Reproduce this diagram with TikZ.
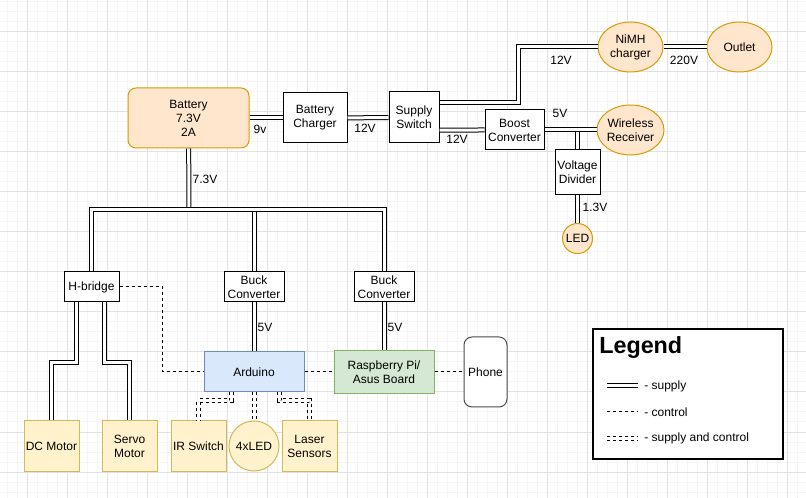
\documentclass[tikz,border=0pt]{standalone}
\usepackage{fontspec}
\setmainfont{Liberation Sans}
\usetikzlibrary{calc, positioning, shapes.geometric}
\definecolor{orangefill}{RGB}{255,230,204}
\definecolor{orangedraw}{RGB}{215,155,0}
\definecolor{yellowfill}{RGB}{255,242,204}
\definecolor{yellowdraw}{RGB}{214,182,86}
\definecolor{bluefill}{RGB}{218,232,252}
\definecolor{bluedraw}{RGB}{108,142,191}
\definecolor{greenfill}{RGB}{213,232,212}
\definecolor{greendraw}{RGB}{130,179,102}
\definecolor{gridminor}{RGB}{245,245,245}
\definecolor{gridmajor}{RGB}{226,226,226}

\begin{document}
\begin{tikzpicture}[x=0.75pt, y=-0.75pt,
  every node/.style={font=\fontsize{9}{10.5}\selectfont, inner sep=0pt, align=center}]
  \tikzstyle{box}=[draw, fill=white, line width=0.75pt]
  \tikzstyle{part}=[draw=yellowdraw, fill=yellowfill, line width=0.75pt,
    minimum width=41.25pt, minimum height=37.5pt]
  \tikzstyle{blob}=[ellipse, draw=orangedraw, fill=orangefill, line width=0.75pt,
    minimum width=48.75pt, minimum height=37.5pt]
  \tikzstyle{supply}=[draw=black, double=white, double distance=2.25pt, line width=0.75pt]
  \tikzstyle{control}=[line width=0.75pt, dash pattern=on 2.25pt off 2.25pt]
  \tikzstyle{both}=[supply, dash pattern=on 2.25pt off 2.25pt]

  % background and grid
  \fill[white] (0,0) rectangle (806,498);
  \useasboundingbox (0,0) rectangle (806,498);
  \foreach \x in {7,17,...,797} \draw[gridminor, line width=0.75pt] (\x,0) -- (\x,498);
  \foreach \y in {2,12,...,492} \draw[gridminor, line width=0.75pt] (0,\y) -- (806,\y);
  \foreach \x in {27,67,...,787} \draw[gridmajor, line width=0.75pt] (\x,0) -- (\x,498);
  \foreach \y in {32,72,...,472} \draw[gridmajor, line width=0.75pt] (0,\y) -- (806,\y);

  % top row
  \node[box, fill=orangefill, draw=orangedraw, rounded corners=6pt,
    minimum width=90.75pt, minimum height=45pt] (bat) at (188.5,118) {Battery\\7.3V\\2A};
  \node[box, minimum width=48pt, minimum height=37.5pt] (chg) at (315,118) {Battery\\Charger};
  \node[box, minimum width=37.5pt, minimum height=38.25pt] (sw) at (414,117.5) {Supply\\Switch};
  \node[blob] (nimh) at (630.5,47) {NiMH\\charger};
  \node[blob] (out) at (739.5,47) {Outlet};
  \node[box, minimum width=44.25pt, minimum height=30pt] (boost) at (514.5,130) {Boost\\Converter};
  \node[blob] (wr) at (630.5,130) {Wireless\\Receiver};
  \node[box, minimum width=33.75pt, minimum height=33.75pt] (div) at (577.5,172.5) {Voltage\\Divider};
  \node[blob, circle, minimum size=22.5pt] (led) at (577.5,238.5) {LED};

  % middle row
  \node[box, minimum width=41.25pt, minimum height=22.5pt] (hb) at (91.5,287) {H-bridge};
  \node[box, minimum width=45pt, minimum height=22.5pt] (bk1) at (254,287) {Buck\\Converter};
  \node[box, minimum width=45pt, minimum height=22.5pt] (bk2) at (384,287) {Buck\\Converter};
  \node[box, fill=bluefill, draw=bluedraw, minimum width=75pt, minimum height=30pt] (ard) at (254,372) {Arduino};
  \node[box, fill=greenfill, draw=greendraw, minimum width=75pt, minimum height=32.25pt] (rpi) at (384,372) {Raspberry Pi/\\Asus Board};
  \node[box, draw=black!70, rounded corners=6pt, minimum width=32.25pt, minimum height=52.5pt] (ph) at (485.5,372) {Phone};

  % bottom row
  \node[part] (dc) at (51.5,446) {DC Motor};
  \node[part] (servo) at (129.5,446) {Servo\\Motor};
  \node[part] (ir) at (198.5,446) {IR Switch};
  \node[part, circle, minimum size=37.5pt] (leds) at (254,446) {4xLED};
  \node[part] (las) at (309.5,446) {Laser\\Sensors};

  % supply lines
  \coordinate (bus) at (189,210);
  \coordinate (up) at (518,47);
  \draw[supply] (bat) -- (chg);
  \draw[supply] (chg) -- (sw);
  \draw[supply] ([yshift=11.6pt]sw.east) -- ([yshift=11.6pt]sw.east -| up) |- (nimh.west);
  \draw[supply] (nimh) -- (out);
  \draw[supply] ([yshift=-9.4pt]sw.east) -- (boost.west);
  \draw[supply] (div.north) -- (div.north |- boost.east);
  \draw[supply] (boost) -- (wr);
  \draw[supply] (div) -- (led);
  \draw[supply] (bat) -- (bus);
  \draw[supply] (bk1.north) -- (bk1.north |- bus);
  \draw[supply] (hb.north) |- (bus) -| (bk2.north);
  \draw[supply] (bk1) -- (ard);
  \draw[supply] (bk2) -- (rpi);
  \draw[supply] ([xshift=-10.9pt]hb.south) -- ++(0,60) -| (dc.north);
  \draw[supply] ([xshift=10.1pt]hb.south) -- ++(0,60) -| (servo.north);

  % control lines
  \draw[control] (hb.east) -- ++(43,0) |- (ard.west);
  \draw[control] (ard) -- (rpi);
  \draw[control] (rpi) -- (ph);

  % supply and control
  \draw[both] ([xshift=-17.25pt]ard.south) -- ++(0,8) -| (ir.north);
  \draw[both] (ard) -- (leds);
  \draw[both] ([xshift=18.75pt]ard.south) -- ++(0,8) -| (las.north);

  % voltages
  \node (v9) at (260,129) {9v};
  \node (v12a) at (365,128) {12V};
  \node (v12b) at (457,139) {12V};
  \node (v12c) at (561,60) {12V};
  \node (v220) at (684,60) {220V};
  \node (v5a) at (560,113) {5V};
  \node (v13) at (595,207) {1.3V};
  \node (v73) at (205,179) {7.3V};
  \node (v5b) at (265,327) {5V};
  \node (v5c) at (395,327) {5V};

  % legend
  \node[draw, fill=white, line width=1pt, minimum width=142.5pt, minimum height=97.5pt] (leg) at (688,394) {};
  \node[anchor=west, font=\bfseries\fontsize{17.5}{20}\selectfont] (legt) at (599,348) {Legend};
  \node[anchor=west] (lsup) at (644,386) {- supply};
  \node[anchor=west] (lctl) at (644,412) {- control};
  \node[anchor=west] (lboth) at (644,438) {- supply and control};
  \draw[supply] ([xshift=-27.75pt]lsup.west) -- ([xshift=-4.5pt]lsup.west);
  \draw[control] ([xshift=-27.75pt]lctl.west) -- ([xshift=-4.5pt]lctl.west);
  \draw[both] ([xshift=-27.75pt]lboth.west) -- ([xshift=-4.5pt]lboth.west);
\end{tikzpicture}
\end{document}
